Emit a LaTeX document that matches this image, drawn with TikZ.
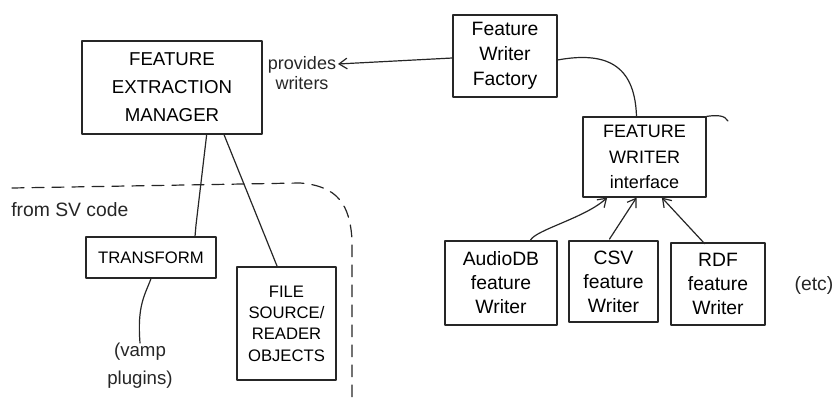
\documentclass[tikz,border=0pt]{standalone}
\usepackage{fontspec}
\setmainfont{Liberation Sans}
\usetikzlibrary{arrows.meta,calc}
\begin{document}
\begin{tikzpicture}[x=0.75pt,y=-0.75pt,
  ink/.style={line width=0.9pt, draw=black!85, line cap=round, line join=round},
  box/.style={ink, rectangle, inner sep=0pt, align=center},
  lbl/.style={inner sep=0pt, align=center, text=black!85},
  arr/.style={ink, -{Straight Barb[length=6pt,width=8pt]}}
]
\useasboundingbox (0,0) rectangle (838,403);

% boxes
\node[box, minimum width=135pt, minimum height=69.75pt, font=\fontsize{14}{21}\selectfont]
  (fem) at (172,87.5) {FEATURE\\EXTRACTION\\MANAGER};
\node[box, minimum width=78pt, minimum height=61.5pt, font=\fontsize{14.5}{19}\selectfont]
  (fac) at (505,56) {Feature\\Writer\\Factory};
\node[box, minimum width=92.25pt, minimum height=60pt, font=\fontsize{13.5}{19}\selectfont]
  (iface) at (644.5,157) {FEATURE\\WRITER\\interface};
\node[box, minimum width=84pt, minimum height=63pt, font=\fontsize{14.5}{18}\selectfont]
  (adb) at (501,283) {AudioDB\\feature\\Writer};
\node[box, minimum width=66.75pt, minimum height=60.75pt, font=\fontsize{14.5}{18}\selectfont]
  (csv) at (613.5,281.5) {CSV\\feature\\Writer};
\node[box, minimum width=70.5pt, minimum height=61.5pt, font=\fontsize{14.5}{18}\selectfont]
  (rdf) at (718,284) {RDF\\feature\\Writer};
\node[box, minimum width=97.5pt, minimum height=30.75pt, font=\fontsize{12.5}{16}\selectfont]
  (trans) at (151,257.5) {TRANSFORM};
\node[box, minimum width=74.25pt, minimum height=84.75pt, font=\fontsize{12.5}{16}\selectfont]
  (file) at (286.5,323.5) {FILE\\SOURCE/\\READER\\OBJECTS};

% labels
\node[lbl, font=\fontsize{13.5}{15}\selectfont] (prov) at (302,73) {provides\\writers};
\node[lbl, font=\fontsize{14}{21}\selectfont] (vamp) at (140,366) {(vamp\\plugins)};
\node[lbl, anchor=west, font=\fontsize{14.5}{16}\selectfont] (sv) at (11,210) {from SV code};
\node[lbl, font=\fontsize{14.5}{16}\selectfont] (etc) at (814,285) {(etc)};

\coordinate (provtip) at (338,64);
\coordinate (hookend) at (728,121);

% region boundary
\draw[ink, dashed, dash pattern=on 9pt off 6pt] (12,188) -- (300,183)
  .. controls (338,186) and (350,205) .. (352,240) -- (352,403);

% connectors
\draw[arr] ($(fac.west)+(0,-1.5pt)$) -- (provtip);
\draw[ink] ($(fac.east)+(0,-3pt)$) .. controls (612,50) and (635,70) .. ($(iface.north)+(-6pt,0)$);
\draw[ink] (iface.north east) .. controls (716,115) and (725,115) .. (hookend);

\draw[arr] ($(adb.north)+(22pt,0)$) .. controls (535,230) and (585,218) .. ($(iface.south)+(-28pt,0)$);
\draw[arr] ($(csv.north)+(-3pt,1pt)$) -- ($(iface.south)+(-6pt,0)$);
\draw[arr] ($(rdf.north)+(-10pt,-1pt)$) -- ($(iface.south)+(13pt,0)$);

\draw[ink] ($(fem.south)+(26pt,0)$) -- (196,225) -- ($(trans.north)+(33pt,0)$);
\draw[ink] ($(fem.south)+(39pt,0)$) -- ($(file.north)+(-7pt,0)$);
\draw[ink] (trans.south) .. controls (145,295) and (137,305) .. (vamp.north);
\end{tikzpicture}
\end{document}
